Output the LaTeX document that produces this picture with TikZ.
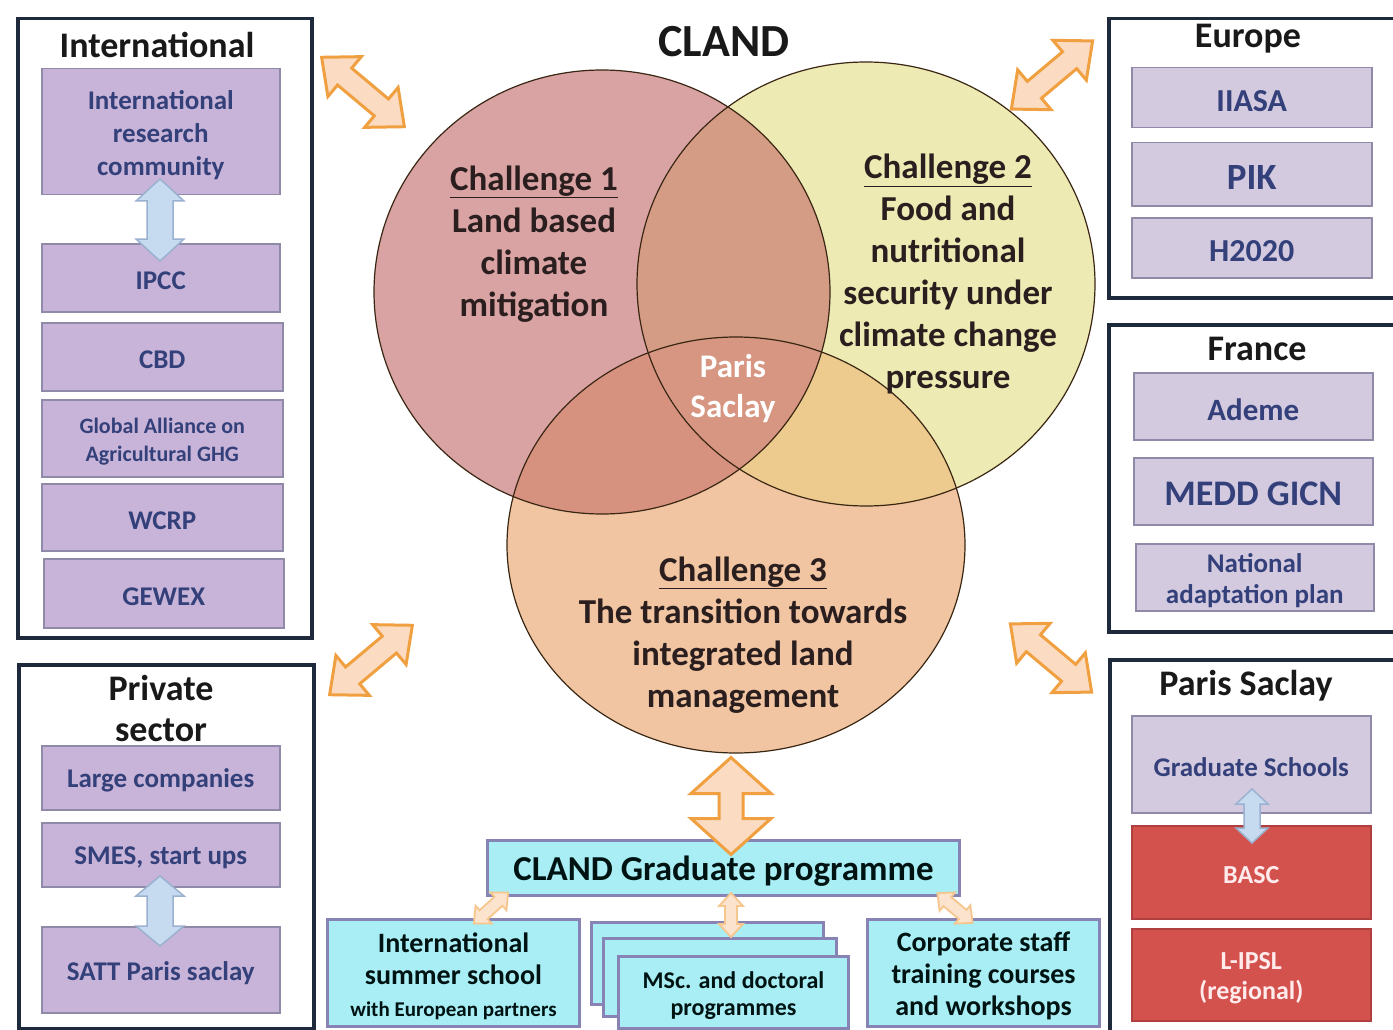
\documentclass[tikz,border=0pt]{standalone}
\usepackage{fontspec}
\setmainfont{Carlito}
\definecolor{navy}{HTML}{1E2A3C}
\definecolor{lav}{HTML}{C8B4D8}
\definecolor{lavb}{HTML}{8F8AA8}
\definecolor{lav2}{HTML}{D4CAE0}
\definecolor{itext}{HTML}{33407A}
\definecolor{bred}{HTML}{D4524E}
\definecolor{bredb}{HTML}{B04040}
\definecolor{cyanf}{HTML}{A8EEF4}
\definecolor{cyanb}{HTML}{8783B5}
\definecolor{cA}{HTML}{D9A3A3}
\definecolor{cB}{HTML}{EEEAB4}
\definecolor{cC}{HTML}{F1C5A2}
\definecolor{cAB}{HTML}{D49C84}
\definecolor{cAC}{HTML}{D6927F}
\definecolor{cBC}{HTML}{EDCB8E}
\definecolor{cABC}{HTML}{D69682}
\definecolor{oline}{HTML}{F0A040}
\definecolor{ofill}{HTML}{FBDCC2}
\definecolor{bline}{HTML}{9AB2D0}
\definecolor{bfill}{HTML}{C6DAF0}
\definecolor{ctext}{HTML}{2B1E1E}
\newcommand\fsz[2]{\fontsize{#1}{#2}\selectfont}
\newcommand\bx[7]{\node[#1,anchor=north west,minimum width={#4-#2},minimum height={#5-#3}] (#6) at (#2,#3) {};
  \node[#1,draw=none,fill=none,minimum width=0pt,minimum height=0pt] at ([yshift=-3pt]#6.center) {#7};}
\tikzset{
  panel/.style={draw=navy,line width=3.5pt,fill=white,inner sep=0pt},
  ptitle/.style={font=\fsz{36}{41}\bfseries,text=black!90,align=center},
  ibox/.style={fill=lav,draw=lavb,line width=1.5pt,text=itext,font=\fsz{27}{33}\bfseries,align=center,inner sep=0pt},
  jbox/.style={ibox,fill=lav2},
  rbox/.style={ibox,fill=bred,draw=bredb,text=white!92!red},
  cbox/.style={fill=cyanf,draw=cyanb,line width=3pt,text=black!85!teal,font=\fsz{28}{32}\bfseries,align=center,inner sep=0pt},
  ctxt/.style={font=\fsz{35}{42}\bfseries,text=ctext,align=center},
  ring/.style={draw=black!70!brown,line width=1.2pt},
  oarrow/.style={fill=ofill,draw=oline,line width=3pt,line join=miter},
  sarrow/.style={fill=ofill!80!white,draw=oline!60!white,line width=1.8pt},
  barrow/.style={fill=bfill,draw=bline,line width=1.5pt},
  pics/dbl/.style n args={4}{code={
    \path[pic actions] (-#1/2,0) -- (-#1/2+#4,#3) -- (-#1/2+#4,#2) -- (#1/2-#4,#2) -- (#1/2-#4,#3) -- (#1/2,0)
      -- (#1/2-#4,-#3) -- (#1/2-#4,-#2) -- (-#1/2+#4,-#2) -- (-#1/2+#4,-#3) -- cycle;
  }}
}
\begin{document}
\begin{tikzpicture}[x=1pt,y=-1pt]
\useasboundingbox[fill=white] (0,0) rectangle (1393,1030);
\clip (0,0) rectangle (1393,1030);

% ---------- Venn circles ----------
\coordinate (c1) at (602,292);
\coordinate (c2) at (866,284);
\coordinate (c3) at (736,545);
\def\eA{(c1) ellipse [x radius=228, y radius=222]}
\def\eB{(c2) ellipse [x radius=229, y radius=222]}
\def\eC{(c3) ellipse [x radius=229, y radius=208]}
\fill[cA] \eA;
\fill[cB] \eB;
\fill[cC] \eC;
\begin{scope}\clip \eA; \fill[cAB] \eB; \end{scope}
\begin{scope}\clip \eA; \fill[cAC] \eC; \end{scope}
\begin{scope}\clip \eB; \fill[cBC] \eC; \end{scope}
\begin{scope}\clip \eA; \clip \eB; \fill[cABC] \eC; \end{scope}
\draw[ring] \eA;
\draw[ring] \eB;
\draw[ring] \eC;

\node[font=\fsz{46}{50}\bfseries,text=black!90] (cland) at (724,42) {CLAND};
\node[ctxt] (ch1) at (534,244) {\underline{Challenge 1}\\Land based\\climate\\mitigation};
\node[ctxt] (ch2) at (948,274) {\underline{Challenge 2}\\Food and\\nutritional\\security under\\climate change\\pressure};
\node[ctxt] (ch3) at (743,635) {\underline{Challenge 3}\\The transition towards\\integrated land\\management};
\node[ctxt,text=white,font=\fsz{33}{40}\bfseries] (psc) at (733,389) {Paris\\Saclay};

% ---------- Left panels ----------
\bx{panel}{16}{17}{310}{636}{intl}{}
\node[ptitle] (intlt) at (157,45) {International};
\bx{ibox}{41}{68}{279}{194}{irc}{International\\research\\community}
\bx{ibox}{41}{243}{279}{311}{ipcc}{IPCC}
\bx{ibox}{41}{322}{282}{390}{cbd}{CBD}
\bx{ibox,font=\fsz{22}{28}\bfseries}{41}{399}{282}{476}{gaa}{Global Alliance on\\Agricultural GHG}
\bx{ibox}{41}{483}{282}{550}{wcrp}{WCRP}
\bx{ibox}{43}{558}{283}{627}{gewex}{GEWEX}
\pic[barrow,rotate=90] at (160,220) {dbl={82}{13}{24}{22}};

\bx{panel}{17}{663}{312}{1027}{priv}{}
\node[ptitle] (privt) at (161,708) {Private\\sector};
\bx{ibox}{41}{745}{279}{809}{large}{Large companies}
\bx{ibox}{41}{822}{279}{886}{smes}{SMES, start ups}
\bx{ibox}{41}{926}{279}{1012}{satt}{SATT Paris saclay}
\pic[barrow,rotate=90] at (160,911) {dbl={70}{13}{24}{20}};

% ---------- Right panels ----------
\bx{panel}{1107}{17}{1402}{296}{eur}{}
\node[ptitle] (eurt) at (1248,39) {Europe};
\bx{jbox,font=\fsz{32}{36}\bfseries}{1131}{67}{1371}{127}{iiasa}{IIASA}
\bx{jbox,font=\fsz{37}{40}\bfseries}{1131}{142}{1371}{205}{pik}{PIK}
\bx{jbox,font=\fsz{32}{36}\bfseries}{1131}{217}{1371}{277}{h2020}{H2020}

\bx{panel}{1107}{323}{1402}{630}{fra}{}
\node[ptitle] (frat) at (1257,349) {France};
\bx{jbox,font=\fsz{31}{36}\bfseries}{1133}{372}{1372}{439}{ademe}{Ademe}
\bx{jbox,font=\fsz{36}{40}\bfseries}{1133}{457}{1372}{524}{medd}{MEDD GICN}
\bx{jbox,font=\fsz{27}{31}\bfseries}{1135}{543}{1373}{610}{nap}{National\\adaptation plan}

\bx{panel}{1108}{658}{1402}{1045}{ps}{}
\node[ptitle] (pst) at (1246,686) {Paris Saclay};
\bx{jbox}{1131}{715}{1370}{812}{grad}{Graduate Schools}
\bx{rbox,font=\fsz{26}{30}\bfseries}{1131}{825}{1370}{918}{basc}{BASC}
\bx{rbox,font=\fsz{26}{30}\bfseries}{1131}{928}{1370}{1020}{lipsl}{L-IPSL\\(regional)}
\pic[barrow,rotate=90] at (1252,816) {dbl={54}{8}{16}{15}};

% ---------- Bottom programme ----------
\bx{cbox,font=\fsz{35}{40}\bfseries}{486}{839}{958}{894}{cgp}{CLAND Graduate programme}
\bx{cbox}{326}{918}{578}{1025}{iss}{International\\summer school\\{\fsz{21}{28}\bfseries with European partners}}
\bx{cbox}{590}{921}{822}{1003}{msc3}{}
\bx{cbox}{602}{937}{835}{1015}{msc2}{}
\bx{cbox,font=\fsz{24}{27}\bfseries}{617}{955}{847}{1027}{msc}{MSc. and doctoral\\programmes}
\bx{cbox}{866}{918}{1098}{1025}{corp}{Corporate staff\\training courses\\and workshops}

% ---------- Orange double arrows ----------
\pic[oarrow,rotate=-40] at (363,92) {dbl={108}{11}{26}{30}};
\pic[oarrow,rotate=40] at (1052,75) {dbl={106}{11}{26}{30}};
\pic[oarrow,rotate=40] at (371,660) {dbl={108}{11}{26}{30}};
\pic[oarrow,rotate=-40] at (1051,658) {dbl={106}{11}{26}{30}};
\pic[oarrow,rotate=90] at (731,806) {dbl={97}{12}{40}{36}};
\pic[sarrow,rotate=42] at (491,908) {dbl={46}{6}{12}{13}};
\pic[sarrow,rotate=90] at (731,915) {dbl={44}{6}{12}{13}};
\pic[sarrow,rotate=-40] at (955,908) {dbl={46}{6}{12}{13}};
\end{tikzpicture}
\end{document}
